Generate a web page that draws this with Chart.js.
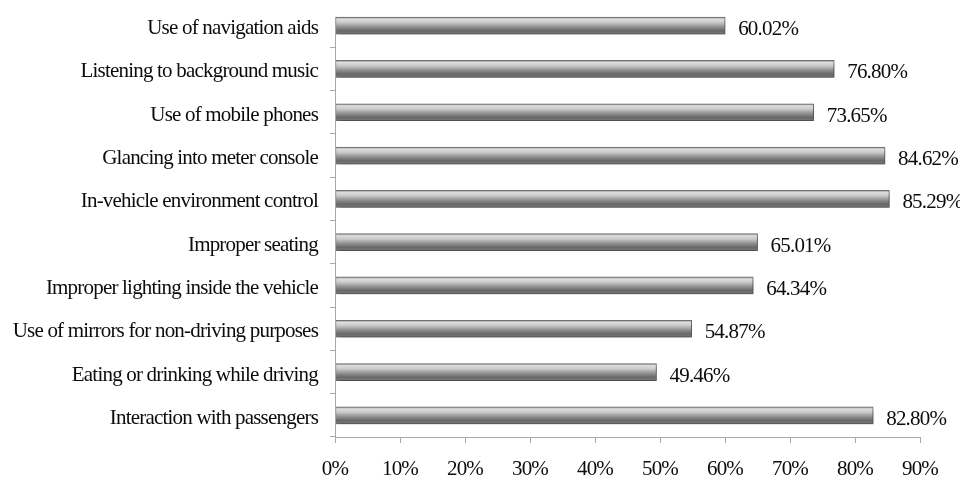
<!DOCTYPE html>
<html>
<head>
<meta charset="utf-8">
<script src="https://cdn.jsdelivr.net/npm/chart.js@4.4.0/dist/chart.umd.min.js"></script>
<style>
  html, body { margin: 0; padding: 0; background: #ffffff; }
  #wrap { width: 960px; height: 483px; position: relative; }
</style>
</head>
<body>
<div id="wrap"><canvas id="c" width="960" height="483"></canvas></div>
<script>
const categories = [
  "Use of navigation aids",
  "Listening to background music",
  "Use of mobile phones",
  "Glancing into meter console",
  "In-vehicle environment control",
  "Improper seating",
  "Improper lighting inside the vehicle",
  "Use of mirrors for non-driving purposes",
  "Eating or drinking while driving",
  "Interaction with passengers"
];
const values = [60.02, 76.80, 73.65, 84.62, 85.29, 65.01, 64.34, 54.87, 49.46, 82.80];
const valueLabels = ["60.02%", "76.80%", "73.65%", "84.62%", "85.29%", "65.01%", "64.34%", "54.87%", "49.46%", "82.80%"];
const xTicks = [0, 10, 20, 30, 40, 50, 60, 70, 80, 90];

const FONT = "'Liberation Serif', 'Times New Roman', serif";
const BAR_T = 17;
const AXIS_COLOR = '#a8a8a8';
const TEXT_COLOR = '#0c0c0c';

function barGradient(context) {
  const chart = context.chart;
  const area = chart.chartArea;
  if (!area) return '#9a9a9a';
  const yc = chart.scales.y.getPixelForValue(context.dataIndex);
  const g = chart.ctx.createLinearGradient(0, yc - BAR_T / 2, 0, yc + BAR_T / 2);
  g.addColorStop(0.00, '#8a8a8a');
  g.addColorStop(0.12, '#dedede');
  g.addColorStop(0.32, '#c8c8c8');
  g.addColorStop(0.55, '#959595');
  g.addColorStop(0.80, '#686868');
  g.addColorStop(1.00, '#7a7a7a');
  return g;
}

const spacingPlugin = {
  id: 'tightText',
  beforeInit(chart) { chart.ctx.letterSpacing = '-0.8px'; },
  beforeUpdate(chart) { chart.ctx.letterSpacing = '-0.8px'; },
  beforeDraw(chart) { chart.ctx.letterSpacing = '-0.8px'; }
};

const yAxisLinePlugin = {
  id: 'yAxisLine',
  afterDraw(chart) {
    const ctx = chart.ctx;
    const y = chart.scales.y;
    const x = chart.scales.x.getPixelForValue(0);
    const top = y.getPixelForValue(0) - BAR_T / 2;
    ctx.save();
    ctx.strokeStyle = AXIS_COLOR;
    ctx.lineWidth = 1;
    ctx.beginPath();
    ctx.moveTo(Math.round(x) + 0.5, top);
    ctx.lineTo(Math.round(x) + 0.5, chart.chartArea.bottom);
    ctx.stroke();
    ctx.restore();
  }
};

const shadowPlugin = {
  id: 'barShadow',
  beforeDatasetsDraw(chart) {
    const ctx = chart.ctx;
    ctx.save();
    ctx.shadowColor = 'rgba(0,0,0,0.38)';
    ctx.shadowBlur = 5;
    ctx.shadowOffsetX = 2;
    ctx.shadowOffsetY = 3;
  },
  afterDatasetsDraw(chart) {
    chart.ctx.restore();
  }
};

const valueLabelPlugin = {
  id: 'valueLabels',
  afterDatasetsDraw(chart) {
    const ctx = chart.ctx;
    const meta = chart.getDatasetMeta(0);
    ctx.save();
    ctx.font = '21px ' + FONT;
    ctx.fillStyle = TEXT_COLOR;
    ctx.textAlign = 'left';
    ctx.textBaseline = 'middle';
    meta.data.forEach((el, i) => {
      ctx.fillText(valueLabels[i], el.x + 13, el.y + 4);
    });
    ctx.restore();
  }
};

new Chart(document.getElementById('c'), {
  type: 'bar',
  data: {
    labels: categories,
    datasets: [{
      data: values,
      backgroundColor: barGradient,
      borderColor: '#727272',
      borderWidth: 1,
      borderSkipped: false,
      barThickness: BAR_T
    }]
  },
  options: {
    indexAxis: 'y',
    responsive: false,
    animation: false,
    devicePixelRatio: 1,
    layout: { padding: { top: 4, right: 40, bottom: 1, left: 0 } },
    plugins: {
      legend: { display: false },
      tooltip: { enabled: false }
    },
    scales: {
      x: {
        min: 0,
        max: 90,
        afterBuildTicks(scale) {
          scale.ticks = xTicks.map(v => ({ value: v }));
        },
        afterFit(scale) {
          scale.height = 45;
          scale.paddingLeft = 0;
          scale.paddingRight = 0;
        },
        grid: {
          drawOnChartArea: false,
          drawTicks: true,
          tickLength: 6,
          color: AXIS_COLOR
        },
        border: { display: true, color: AXIS_COLOR, width: 1 },
        ticks: {
          padding: 14,
          color: TEXT_COLOR,
          font: { family: FONT, size: 21 },
          callback: (v) => v + '%'
        }
      },
      y: {
        afterFit(scale) {
          scale.width = 335;
          scale.paddingTop = 0;
          scale.paddingBottom = 0;
        },
        grid: {
          offset: true,
          drawOnChartArea: false,
          drawTicks: true,
          tickLength: 5,
          color: (ctx) => ctx.index === 0 ? 'rgba(0,0,0,0)' : AXIS_COLOR
        },
        border: { display: false },
        ticks: {
          padding: 12,
          labelOffset: 3,
          color: TEXT_COLOR,
          font: { family: FONT, size: 21 }
        }
      }
    }
  },
  plugins: [spacingPlugin, shadowPlugin, valueLabelPlugin, yAxisLinePlugin]
});
</script>
</body>
</html>
